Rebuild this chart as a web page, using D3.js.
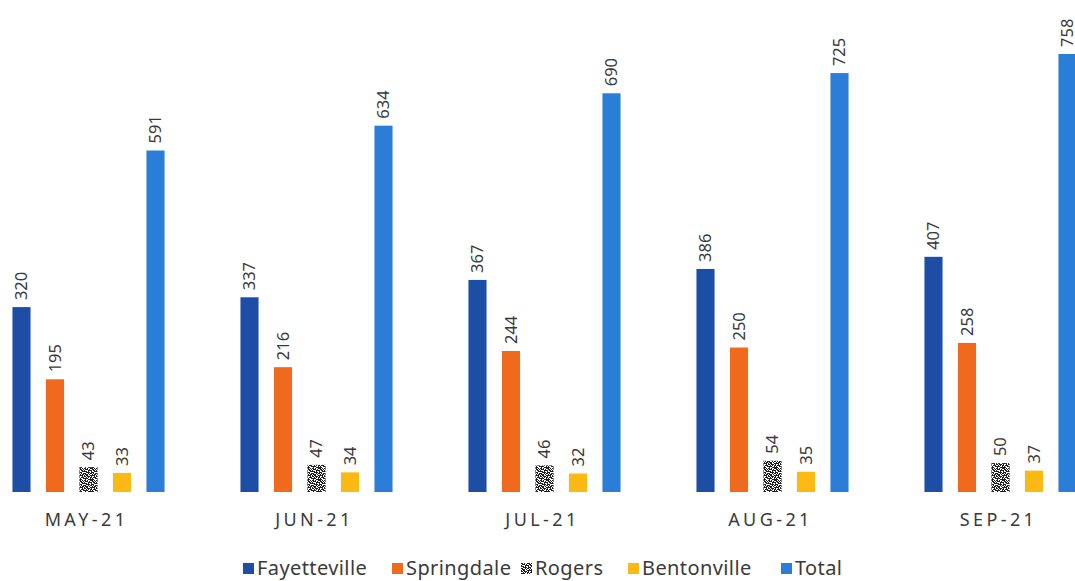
<!DOCTYPE html>
<html><head><meta charset="utf-8">
<script src="https://cdn.jsdelivr.net/npm/d3@7"></script>
<style>body{margin:0;background:#fff;}svg{display:block;}</style>
</head><body>
<svg id="chart" width="1075" height="581"></svg>
<script>
const months = ["MAY-21","JUN-21","JUL-21","AUG-21","SEP-21"];
const seriesNames = ["Fayetteville","Springdale","Rogers","Bentonville","Total"];
const fayetteville = [320,337,367,386,407];
const springdale = [195,216,244,250,258];
const rogers = [43,47,46,54,50];
const bentonville = [33,34,32,35,37];
const total = [591,634,690,725,758];
const colors = ["#1d4ea6","#ef6a1c","url(#rogersPat)","#fdb913","#2a7ed8"];

const seriesVals = [fayetteville,springdale,rogers,bentonville,total];
const svg = d3.select("#chart");
const defs = svg.append("defs");
const pat = defs.append("pattern").attr("id","rogersPat").attr("patternUnits","userSpaceOnUse")
  .attr("width",12).attr("height",12);
pat.append("rect").attr("width",12).attr("height",12).attr("fill","#ffffff");
const patRows = [
  "110100111010",
  "011101001101",
  "100011110110",
  "111010010011",
  "001111011100",
  "110010110101",
  "011101001011",
  "101100111110",
  "110111010010",
  "001010110111",
  "111100101001",
  "010011111100"];
patRows.forEach((r,yy)=>r.split("").forEach((c,xx)=>{ if(c==="1") pat.append("rect").attr("x",xx).attr("y",yy).attr("width",1).attr("height",1).attr("fill","#1e1e1e");}));

const baseline = 492;
const y = d3.scaleLinear().domain([0,758]).range([baseline,54]);
const x0 = d3.scaleBand().domain(months).range([-25.5,1114.5]).padding(0);
const x1 = d3.scaleBand().domain(seriesNames).range([-83.75,83.75]).paddingInner(0.46).paddingOuter(0.23);

const data = [];
months.forEach((m,i)=>seriesNames.forEach((s,j)=>data.push({m,s,j,v:seriesVals[j][i]})));

const g = svg.append("g");
const cx = d => x0(d.m)+x0.bandwidth()/2 + x1(d.s);
g.selectAll("rect.bar").data(data).join("rect").attr("class","bar")
  .attr("x",cx).attr("width",x1.bandwidth())
  .attr("y",d=>y(d.v)).attr("height",d=>baseline-y(d.v))
  .attr("fill",d=>colors[d.j]);

g.selectAll("text.lbl").data(data).join("text").attr("class","lbl")
  .attr("transform",d=>`translate(${cx(d)+x1.bandwidth()/2},${y(d.v)-7}) rotate(-90)`)
  .attr("dy","0.36em")
  .attr("font-family","Noto Sans, sans-serif").attr("font-size",16.5).attr("fill","#3a3a3a")
  .text(d=>d.v);

svg.append("g").selectAll("text").data(months).join("text")
  .attr("x",d=>x0(d)+x0.bandwidth()/2-2).attr("y",526)
  .attr("text-anchor","middle").attr("font-family","Noto Sans, sans-serif")
  .attr("font-size",18).attr("letter-spacing","3.4px").attr("fill","#3a3a3a").text(d=>d);

const legX = [243,392,521,628,781];
const leg = svg.append("g").selectAll("g").data(seriesNames).join("g")
  .attr("transform",(d,i)=>`translate(${legX[i]},575)`);
leg.append("rect").attr("x",0).attr("y",-12).attr("width",11).attr("height",11)
  .attr("fill",(d,i)=>colors[i]);
leg.append("text").attr("x",14).attr("y",0).attr("font-family","Noto Sans, sans-serif")
  .attr("font-size",20).attr("letter-spacing","0.4px").attr("fill","#3a3a3a").text(d=>d);
</script>
</body></html>
